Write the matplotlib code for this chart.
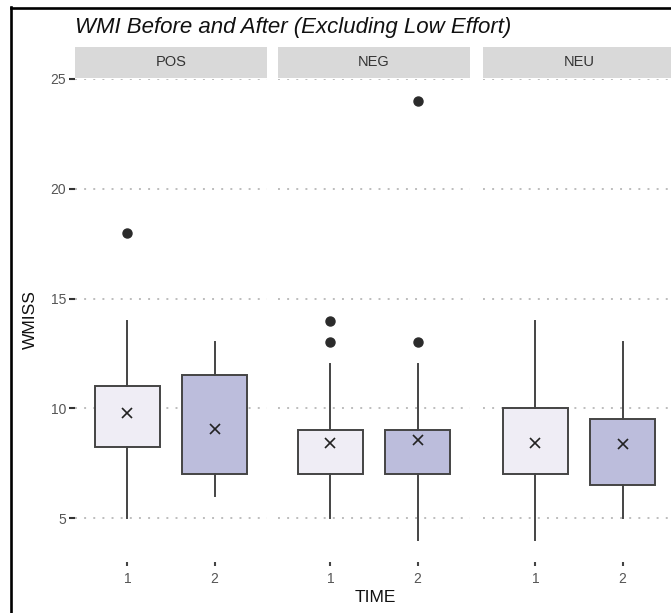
import matplotlib
matplotlib.use("Agg")
import matplotlib.pyplot as plt
from matplotlib.lines import Line2D

plt.rcParams["font.family"] = ["Liberation Sans", "DejaVu Sans"]

# Box statistics for each emotion condition, TIME 1 and TIME 2
panels = ["POS", "NEG", "NEU"]
times = ["1", "2"]
q1 = {"POS": [8.25, 7.0], "NEG": [7.0, 7.0], "NEU": [7.0, 6.5]}
q3 = {"POS": [11.0, 11.5], "NEG": [9.0, 9.0], "NEU": [10.0, 9.5]}
whisker_low = {"POS": [5, 6], "NEG": [5, 4], "NEU": [4, 5]}
whisker_high = {"POS": [14, 13], "NEG": [12, 12], "NEU": [14, 13]}
means = {"POS": [9.77, 9.05], "NEG": [8.43, 8.57], "NEU": [8.44, 8.38]}
outliers = {"POS": [[18], []], "NEG": [[13, 14], [13, 24]], "NEU": [[], []]}
y_ticks = [5, 10, 15, 20, 25]

fills = ["#EFEDF5", "#BCBDDC"]
edge = "#444444"

W, H = 671, 613
fig = plt.figure(figsize=(W / 100, H / 100), dpi=100)

def fx(px):
    return px / W

def fy(py):
    return 1 - py / H

panel_left = [75, 278, 483]
panel_w = 192
top, bottom = 79, 562
strip_top = 47

for i, name in enumerate(panels):
    ax = fig.add_axes([fx(panel_left[i]), fy(bottom), panel_w / W, (bottom - top) / H])
    stats = []
    for t in range(2):
        stats.append(dict(
            q1=q1[name][t], q3=q3[name][t], med=q1[name][t],
            whislo=whisker_low[name][t], whishi=whisker_high[name][t],
            mean=means[name][t], fliers=outliers[name][t], label=times[t],
        ))
    bp = ax.bxp(stats, positions=[1, 2], widths=0.75, patch_artist=True,
                showcaps=False, showmeans=True, showfliers=True,
                boxprops=dict(edgecolor=edge, linewidth=1.4),
                whiskerprops=dict(color=edge, linewidth=1.4),
                medianprops=dict(linewidth=0),
                meanprops=dict(marker="x", markeredgecolor="#222222",
                               markersize=7.5, markeredgewidth=1.2),
                flierprops=dict(marker="o", markerfacecolor="#2B2B2B",
                                markeredgecolor="#2B2B2B", markersize=6.5))
    for patch, c in zip(bp["boxes"], fills):
        patch.set_facecolor(c)
    for b in bp["boxes"] + bp["whiskers"] + bp["fliers"] + bp["means"]:
        b.set_zorder(3)

    ax.set_xlim(0.4, 2.6)
    ax.set_ylim(3, 25)
    ax.set_yticks(y_ticks)
    ax.set_xticks([1, 2])
    ax.set_xticklabels(times)
    ax.yaxis.grid(True, color="#BDBDBD", linewidth=1.4, linestyle=(0, (1, 3.7)))
    ax.set_axisbelow(True)
    for s in ax.spines.values():
        s.set_visible(False)
    ax.tick_params(axis="x", length=3, width=1.5, color="#444444",
                   labelcolor="#555555", labelsize=10, pad=4)
    if i == 0:
        ax.tick_params(axis="y", length=4.3, width=1.5, color="#333333",
                       labelcolor="#555555", labelsize=10, pad=2)
    else:
        ax.tick_params(axis="y", left=False, labelleft=False)

    # facet strip
    sax = fig.add_axes([fx(panel_left[i]), fy(top - 1), panel_w / W, (top - 1 - strip_top) / H])
    sax.set_facecolor("#D9D9D9")
    sax.set_xticks([])
    sax.set_yticks([])
    for s in sax.spines.values():
        s.set_visible(False)
    sax.text(0.5, 0.5, name, ha="center", va="center", fontsize=10.5,
             color="#333333", transform=sax.transAxes)

fig.text(fx(75), fy(27), "WMI Before and After (Excluding Low Effort)",
         ha="left", va="center", fontsize=16, style="italic", color="#111111")
fig.text(fx(30), fy(320), "WMISS", rotation=90, ha="center", va="center",
         fontsize=12.5, color="#111111")
fig.text(fx(375), fy(598), "TIME", ha="center", va="center",
         fontsize=12.5, color="#111111")

# outer frame lines
fig.add_artist(Line2D([fx(10.5), fx(10.5)], [0, fy(7)], color="black", linewidth=1.9,
                      transform=fig.transFigure))
fig.add_artist(Line2D([fx(10.5), 1], [fy(7.5), fy(7.5)], color="black", linewidth=1.9,
                      transform=fig.transFigure))

fig.savefig("out.png", dpi=100)
